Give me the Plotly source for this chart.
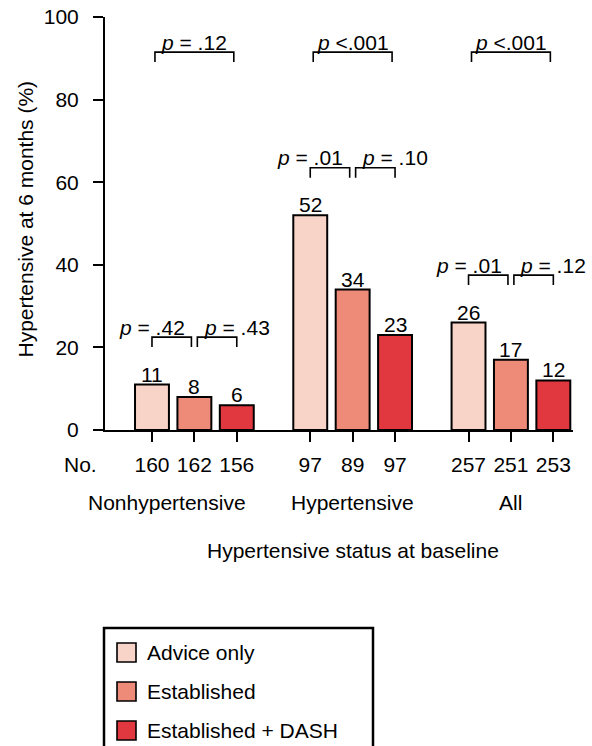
import plotly.graph_objects as go

# ---------------- data ----------------
groups = ["Nonhypertensive", "Hypertensive", "All"]
series = ["Advice only", "Established", "Established + DASH"]
advice_only = [11, 52, 26]
established = [8, 34, 17]
established_dash = [6, 23, 12]
n_advice = [160, 97, 257]
n_established = [162, 89, 251]
n_dash = [156, 97, 253]
p_overall = ["= .12", "&lt;.001", "&lt;.001"]
p_advice_vs_est = ["= .42", "= .01", "= .01"]
p_est_vs_dash = ["= .43", "= .10", "= .12"]
y_ticks = [0, 20, 40, 60, 80, 100]
x_title = "Hypertensive status at baseline"
y_title = "Hypertensive at 6 months (%)"

# ---------------- style / layout ----------------
colors = ["#F8D3C7", "#EE8A78", "#E1383F"]
FONT = "Liberation Sans, Arial, Helvetica, sans-serif"
FS = 21
W, H = 592, 746
ML, MR, MT, MB = 105, 19, 17, 316
PW, PH = W - ML - MR, H - MT - MB
GROUP_STEP = 3.733
BAR_W = 0.80
X_RANGE = [-1.108, 9.93]
INSET = 0.07
TOP_LEVEL = 91.5
LEG = 2.4
PAIR_OFFSET = 11.5


def pos(g, s):
    return g * GROUP_STEP + s


def px_x(p):
    return (p - ML) / PW


def px_y(p):
    return (H - MB - p) / PH


values = [advice_only, established, established_dash]
counts = [n_advice, n_established, n_dash]

fig = go.Figure()
for s, vals in enumerate(values):
    fig.add_trace(go.Bar(
        x=[pos(g, s) for g in range(len(groups))],
        y=vals,
        width=BAR_W,
        name=series[s],
        marker=dict(color=colors[s], line=dict(color="black", width=2)),
        showlegend=False,
    ))

tickvals, ticktext = [], []
for g in range(len(groups)):
    for s in range(len(series)):
        tickvals.append(pos(g, s))
        ticktext.append(str(counts[s][g]))

annotations = []
shapes = []
txt = dict(family=FONT, size=FS, color="black")

# value labels
for s, vals in enumerate(values):
    for g, v in enumerate(vals):
        annotations.append(dict(x=pos(g, s), y=v, xref="x", yref="y", text=str(v),
                                showarrow=False, yanchor="bottom", yshift=-3, font=txt))


def bracket(x0, x1, y):
    shapes.append(dict(type="path", xref="x", yref="y",
                       path=f"M {x0},{y - LEG} L {x0},{y} L {x1},{y} L {x1},{y - LEG}",
                       line=dict(color="black", width=1.6)))


for g in range(len(groups)):
    # overall comparison
    bracket(pos(g, 0) + INSET, pos(g, 2) - INSET, TOP_LEVEL)
    annotations.append(dict(x=pos(g, 1), y=TOP_LEVEL, xref="x", yref="y",
                            text=f"<i>p</i> {p_overall[g]}", showarrow=False,
                            yanchor="bottom", yshift=-3.5, font=txt))
    # pairwise comparisons
    lvl = max(v[g] for v in values) + PAIR_OFFSET
    bracket(pos(g, 0), pos(g, 1) - INSET, lvl)
    bracket(pos(g, 1) + INSET, pos(g, 2), lvl)
    annotations.append(dict(x=pos(g, 0), y=lvl, xref="x", yref="y",
                            text=f"<i>p</i> {p_advice_vs_est[g]}", showarrow=False,
                            yanchor="bottom", yshift=-3.5, font=txt))
    annotations.append(dict(x=pos(g, 2), y=lvl, xref="x", yref="y",
                            text=f"<i>p</i> {p_est_vs_dash[g]}", showarrow=False,
                            yanchor="bottom", yshift=-3.5, font=txt))
    # group label
    annotations.append(dict(x=pos(g, 1), y=px_y(502.5), xref="x", yref="paper",
                            text=groups[g], showarrow=False, yanchor="middle",
                            xshift=-27 if g == 0 else 0, font=txt))

annotations.append(dict(x=px_x(61.5), y=px_y(464), xref="paper", yref="paper", text="No.",
                        showarrow=False, xanchor="left", yanchor="middle", font=txt))
annotations.append(dict(x=px_x(352.5), y=px_y(550.7), xref="paper", yref="paper", text=x_title,
                        showarrow=False, xanchor="center", yanchor="middle", font=txt))
annotations.append(dict(x=px_x(25), y=px_y(219.5), xref="paper", yref="paper", text=y_title,
                        showarrow=False, textangle=-90, xanchor="center", yanchor="middle", font=txt))

# legend (drawn box)
shapes.append(dict(type="rect", xref="paper", yref="paper",
                   x0=px_x(104), x1=px_x(373), y0=px_y(628), y1=px_y(780),
                   line=dict(color="black", width=2.5), fillcolor="rgba(0,0,0,0)"))
for s, name in enumerate(series):
    cy = 652.5 + 39 * s
    shapes.append(dict(type="rect", xref="paper", yref="paper",
                       x0=px_x(117), x1=px_x(136), y0=px_y(cy + 9.5), y1=px_y(cy - 9.5),
                       line=dict(color="black", width=1.6), fillcolor=colors[s]))
    annotations.append(dict(x=px_x(145), y=px_y(cy), xref="paper", yref="paper", text=name,
                            showarrow=False, xanchor="left", yanchor="middle", font=txt))

fig.update_layout(
    width=W, height=H,
    margin=dict(l=ML, r=MR, t=MT, b=MB, autoexpand=False),
    plot_bgcolor="white", paper_bgcolor="white",
    font=txt,
    barmode="overlay",
    showlegend=False,
    hovermode=False,
    xaxis=dict(range=X_RANGE, tickvals=tickvals, ticktext=ticktext, ticks="outside",
               ticklen=10, tickwidth=2, tickcolor="black", showline=True, linewidth=2,
               linecolor="black", showgrid=False, zeroline=False, tickfont=txt,
               ticklabelstandoff=5),
    yaxis=dict(range=[0, 100], tickvals=y_ticks, ticks="outside", ticklen=10, tickwidth=2,
               tickcolor="black", showline=True, linewidth=2, linecolor="black",
               showgrid=False, zeroline=False, tickfont=txt, ticklabelstandoff=10),
    annotations=annotations,
    shapes=shapes,
)

fig.write_html("out.html", config={"displayModeBar": False},
               post_script="document.body.style.margin='0';document.body.style.overflow='hidden';")
